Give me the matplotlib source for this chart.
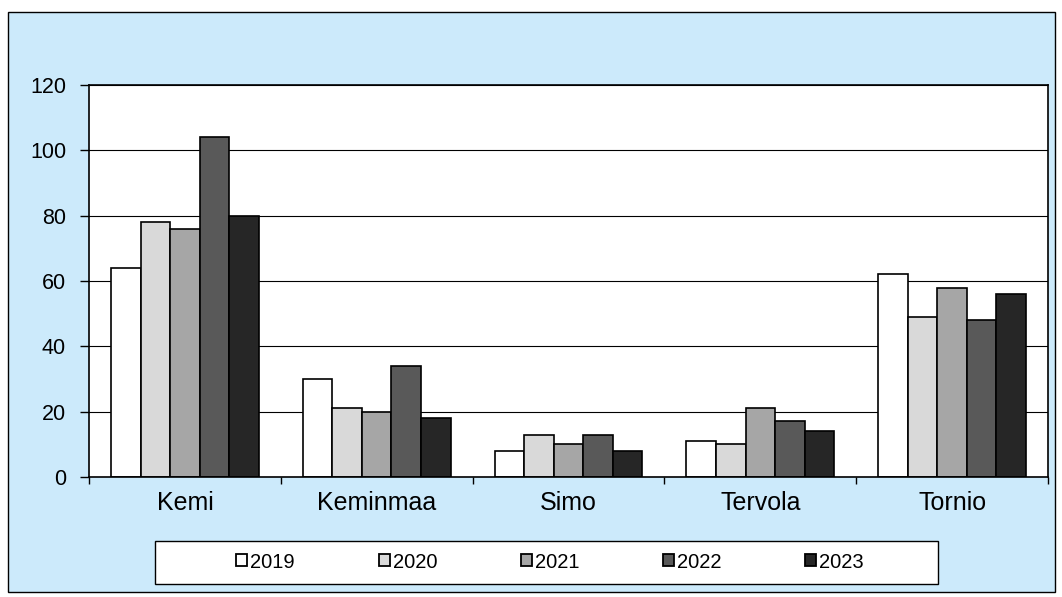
import matplotlib.pyplot as plt
from matplotlib.patches import Rectangle
import numpy as np

plt.rcParams['font.family'] = ['Liberation Sans', 'DejaVu Sans']

# data
municipalities = ["Kemi", "Keminmaa", "Simo", "Tervola", "Tornio"]
years = ["2019", "2020", "2021", "2022", "2023"]
v2019 = [64, 30, 8, 11, 62]
v2020 = [78, 21, 13, 10, 49]
v2021 = [76, 20, 10, 21, 58]
v2022 = [104, 34, 13, 17, 48]
v2023 = [80, 18, 8, 14, 56]
series = [v2019, v2020, v2021, v2022, v2023]
colors = ["#ffffff", "#d9d9d9", "#a6a6a6", "#595959", "#262626"]

W, H = 1062, 597
fig = plt.figure(figsize=(W / 100, H / 100), dpi=100)
fig.patch.set_facecolor("white")

# light blue chart area with black border
fig.patches.append(Rectangle((8 / W, 1 - 592 / H), (1055 - 8) / W, (592 - 12) / H,
                             transform=fig.transFigure, facecolor="#cceafb",
                             edgecolor="black", linewidth=1.0, zorder=0))

ax = fig.add_axes([89 / W, 1 - 477 / H, (1048 - 89) / W, (477 - 85) / H])
ax.set_zorder(2)
ax.set_facecolor("white")

x = np.arange(len(municipalities))
bw = 0.154
for i, (vals, c, yr) in enumerate(zip(series, colors, years)):
    ax.bar(x + (i - 2) * bw, vals, width=bw, color=c, edgecolor="black",
           linewidth=1.2, label=yr, zorder=3)

ax.set_xlim(-0.5, len(municipalities) - 0.5)
ax.set_ylim(0, 120)
ax.set_yticks(range(0, 121, 20))
ax.tick_params(axis="y", labelsize=15.5, length=6.5, width=1, pad=10, direction="out")
ax.set_xticks(np.arange(-0.5, len(municipalities), 1.0))
ax.set_xticklabels([])
ax.set_xticks(x, minor=True)
ax.set_xticklabels(municipalities, minor=True, fontsize=18)
ax.tick_params(axis="x", which="major", length=5, width=1, direction="out")
ax.tick_params(axis="x", which="minor", length=0, pad=10)
ax.grid(axis="y", color="black", linewidth=0.8, zorder=1)
for s in ax.spines.values():
    s.set_linewidth(1.2)
    s.set_zorder(4)

# legend box at the bottom
fig.patches.append(Rectangle((155 / W, 1 - 584 / H), (938 - 155) / W, (584 - 541) / H,
                             transform=fig.transFigure, facecolor="white",
                             edgecolor="black", linewidth=1.0, zorder=1))
leg = fig.legend(loc="center", bbox_to_anchor=(550 / W, 1 - 562 / H), ncol=5,
                 frameon=False, fontsize=14.5, handlelength=0.55, handleheight=0.55,
                 handletextpad=0.15, columnspacing=4.15)
leg.set_zorder(5)
for p in leg.get_patches():
    p.set_linewidth(1.3)

fig.savefig("out.png", dpi=100, facecolor=fig.get_facecolor())
